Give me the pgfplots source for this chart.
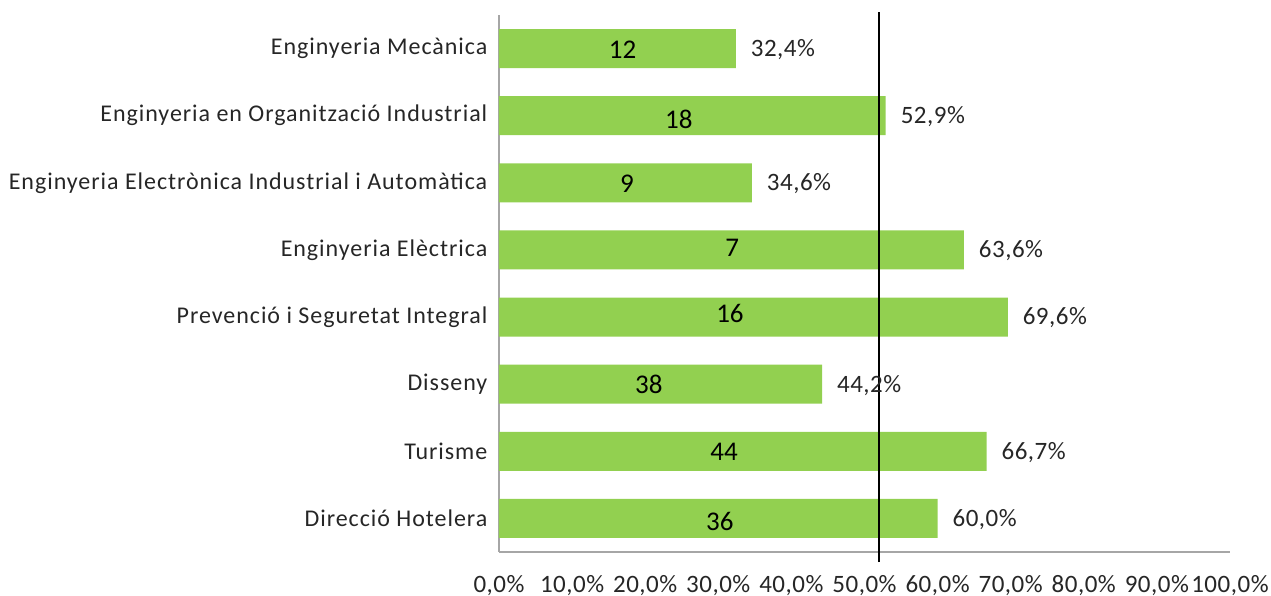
\documentclass[border=0pt]{standalone}
\usepackage{fontspec}
\setmainfont{Carlito}
\newfontfamily\catfont[LetterSpace=4]{Carlito}
\newfontfamily\numfont[LetterSpace=2]{Carlito}
\usepackage{pgfplots}
\pgfplotsset{compat=1.18}
\usepackage{pgfplotstable}

\definecolor{bargreen}{HTML}{92D050}
\definecolor{axgray}{HTML}{A6A6A6}
\definecolor{txt}{HTML}{262626}

\pgfplotstableread{
y pct
1 60.0
2 66.7
3 44.2
4 69.6
5 63.6
6 34.6
7 52.9
8 32.4
}\pcttable

\pgfplotstableread{
lx ly n
30.2 0.95 36
30.8 1.99 44
20.5 2.99 38
31.6 4.05 16
31.9 5.03 7
17.5 5.98 9
24.6 6.94 18
16.9 7.98 12
}\cnttable

\begin{document}
\begin{tikzpicture}
\begin{axis}[name=ax, scale only axis, width=365.5pt, height=268.5pt,
  xmin=0, xmax=100, ymin=0.5, ymax=8.5,
  axis x line*=bottom, axis y line*=left,
  axis line style={draw=axgray, line width=1pt, -},
  xtick={0,10,...,100}, ytick={1,...,8},
  yticklabels={Direcció Hotelera, Turisme, Disseny, Prevenció i Seguretat Integral, Enginyeria Elèctrica, Enginyeria Electrònica Industrial i Automàtica, Enginyeria en Organització Industrial, Enginyeria Mecànica},
  major tick length=0pt,
  tick style={draw=none},
  xticklabel={\pgfmathprintnumber[fixed,fixed zerofill,precision=1,use comma,assume math mode=true]{\tick}\%},
  xticklabel style={anchor=north, yshift=-8pt, font=\numfont\fontsize{12.5}{14}\selectfont, text=txt},
  yticklabel style={anchor=east, xshift=-2.3pt, font=\catfont\fontsize{12}{14}\selectfont, text=txt},
  clip=false,
]
\addplot[xbar, bar width=19.5pt, fill=bargreen, draw=none,
  point meta=x,
  nodes near coords={\pgfmathprintnumber[fixed,fixed zerofill,precision=1,use comma,assume math mode=true]{\pgfplotspointmeta}\%},
  nodes near coords style={anchor=west, xshift=4pt, yshift=-0.5pt, font=\numfont\fontsize{12.5}{14}\selectfont, text=txt}]
  table[x=pct, y=y] {\pcttable};
\addplot[draw=none, mark=none, point meta=explicit symbolic,
  nodes near coords,
  nodes near coords style={anchor=center, font=\fontsize{13.5}{15}\selectfont, text=black}]
  table[x=lx, y=ly, meta=n] {\cnttable};
\addplot[black, line width=0.75pt] coordinates {(52,0.35) (52,8.545)};
\end{axis}
\pgfresetboundingbox
\path ([xshift=-249.5pt,yshift=-22pt]ax.south west) rectangle ([xshift=20.5pt,yshift=7.5pt]ax.north east);
\end{tikzpicture}
\end{document}
